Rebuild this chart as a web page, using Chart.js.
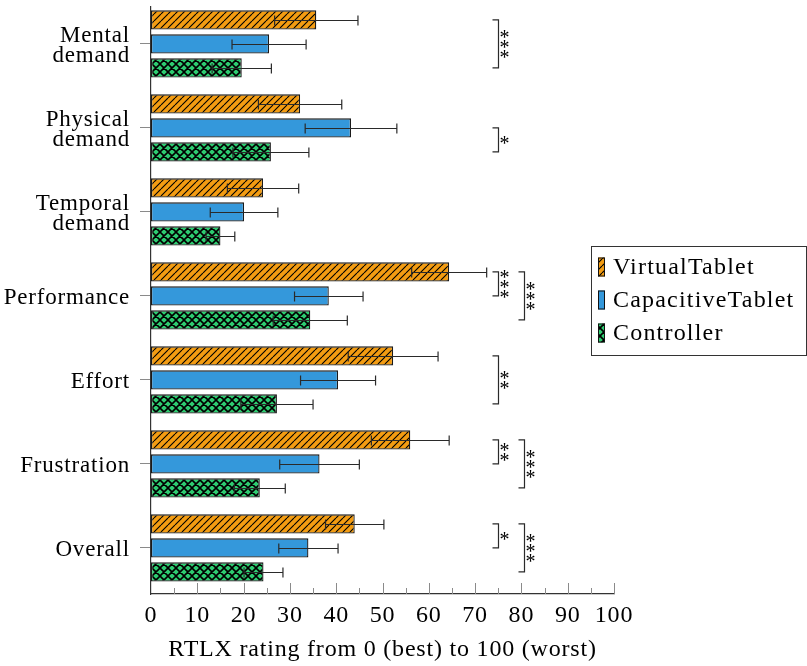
<!DOCTYPE html>
<html>
<head>
<meta charset="utf-8">
<title>RTLX ratings</title>
<script src="https://cdn.jsdelivr.net/npm/chart.js@4/dist/chart.umd.min.js"></script>
<style>
  html, body { margin: 0; padding: 0; background: #ffffff; }
  #wrap { width: 807px; height: 666px; }
</style>
</head>
<body>
<div id="wrap"><canvas id="chart" width="807" height="666"></canvas></div>
<script>
// ---- data -------------------------------------------------------------
const categories = [["Mental", "demand"], ["Physical", "demand"], ["Temporal", "demand"],
                    "Performance", "Effort", "Frustration", "Overall"];
const seriesNames = ["VirtualTablet", "CapacitiveTablet", "Controller"];

const virtualTablet      = [35.7, 32.2, 24.2, 64.4, 52.3, 56.0, 44.0];
const virtualTabletSD    = [ 9.0,  9.0,  7.7,  8.1,  9.7,  8.4,  6.3];
const capacitiveTablet   = [25.5, 43.2, 20.1, 38.4, 40.4, 36.4, 34.0];
const capacitiveTabletSD = [ 8.0,  9.9,  7.3,  7.4,  8.1,  8.6,  6.4];
const controller         = [19.6, 25.9, 15.0, 34.4, 27.2, 23.5, 24.3];
const controllerSD       = [ 6.4,  8.2,  3.1,  8.0,  7.8,  5.5,  4.2];

const xTicks = [0, 10, 20, 30, 40, 50, 60, 70, 80, 90, 100];

// pairwise significance: category, first series, second series, stars, bracket column
const sigCategory = [0, 1, 3, 3, 4, 5, 5, 6, 6];
const sigFrom     = [0, 1, 0, 0, 0, 0, 0, 0, 0];
const sigTo       = [2, 2, 1, 2, 2, 1, 2, 1, 2];
const sigStars    = ["***", "*", "***", "***", "**", "**", "***", "*", "***"];
const sigLevel    = [0, 0, 0, 1, 0, 0, 1, 0, 1];

// ---- styling ----------------------------------------------------------
const FONT = "'Liberation Serif', 'Times New Roman', serif";
const SPACING = "0.8px";
Chart.defaults.font.family = FONT;
Chart.defaults.color = "#000";

function hatchPattern(fill, size, cross, lw) {
  const c = document.createElement("canvas");
  c.width = size; c.height = size;
  const g = c.getContext("2d");
  g.fillStyle = fill;
  g.fillRect(0, 0, size, size);
  g.strokeStyle = "#000";
  g.lineWidth = lw;
  g.beginPath();
  // north-east lines (with wrap-around copies)
  for (const o of [-size, 0, size]) {
    g.moveTo(o, size); g.lineTo(o + size, 0);
  }
  if (cross) {
    for (const o of [-size, 0, size]) {
      g.moveTo(o, 0); g.lineTo(o + size, size);
    }
  }
  g.stroke();
  return g.createPattern(c, "repeat");
}

const ctx = document.getElementById("chart").getContext("2d");
const fills = [
  hatchPattern("#F39C12", 7, false, 1.1),
  "#3498DB",
  hatchPattern("#2ECC71", 8, true, 1.6)
];

const meanSets = [virtualTablet, capacitiveTablet, controller];
const sdSets = [virtualTabletSD, capacitiveTabletSD, controllerSD];

// bracket columns on the value axis and the arm length in pixels
const bracketColumn = [75, 80.6];
const ARM = 6;

const overlay = {
  id: "overlay",
  beforeLayout(chart) { chart.ctx.letterSpacing = SPACING; },
  beforeDraw(chart) { chart.ctx.letterSpacing = SPACING; },
  afterDatasetsDraw(chart) {
    const g = chart.ctx;
    const xs = chart.scales.x;
    g.save();
    g.letterSpacing = "0px";

    // error bars (mean ± SD)
    g.strokeStyle = "#2a2a2a";
    g.lineWidth = 1.2;
    meanSets.forEach((means, d) => {
      chart.getDatasetMeta(d).data.forEach((bar, i) => {
        const y = Math.round(bar.y) + 0.5;
        const x1 = xs.getPixelForValue(means[i] - sdSets[d][i]);
        const x2 = xs.getPixelForValue(means[i] + sdSets[d][i]);
        g.beginPath();
        g.moveTo(x1, y); g.lineTo(x2, y);
        g.moveTo(x1, y - 5); g.lineTo(x1, y + 5);
        g.moveTo(x2, y - 5); g.lineTo(x2, y + 5);
        g.stroke();
      });
    });

    // significance brackets with stacked asterisks
    g.font = "20px " + FONT;
    g.fillStyle = "#000";
    g.textAlign = "center";
    g.textBaseline = "alphabetic";
    const m = g.measureText("*");
    const starShift = (m.actualBoundingBoxAscent - m.actualBoundingBoxDescent) / 2;
    sigCategory.forEach((c, k) => {
      const yA = chart.getDatasetMeta(sigFrom[k]).data[c].y;
      const yB = chart.getDatasetMeta(sigTo[k]).data[c].y;
      const x = Math.round(xs.getPixelForValue(bracketColumn[sigLevel[k]])) + 0.5;
      g.beginPath();
      g.moveTo(x - ARM, yA); g.lineTo(x, yA); g.lineTo(x, yB); g.lineTo(x - ARM, yB);
      g.stroke();
      const stars = sigStars[k];
      const mid = (yA + yB) / 2;
      for (let s = 0; s < stars.length; s++) {
        const sy = mid + (s - (stars.length - 1) / 2) * 10;
        g.fillText(stars[s], x + 6, sy + starShift);
      }
    });

    // inward ticks on the value axis: major every 10, minor every 5
    const bottom = chart.chartArea.bottom;
    g.strokeStyle = "#8a8a8a";
    g.lineWidth = 1;
    g.beginPath();
    for (let v = 5; v <= 100; v += 5) {
      const px = Math.round(xs.getPixelForValue(v)) + 0.5;
      const len = v % 10 === 0 ? 11 : 6;
      g.moveTo(px, bottom); g.lineTo(px, bottom - len);
    }
    g.stroke();
    g.restore();
  },
  afterDraw(chart) {
    // framed legend box
    const g = chart.ctx;
    g.save();
    g.letterSpacing = "1.2px";
    g.strokeStyle = "#333";
    g.lineWidth = 1;
    g.strokeRect(591.5, 246.5, 215, 109);
    g.font = "24px " + FONT;
    g.textAlign = "left";
    g.textBaseline = "middle";
    seriesNames.forEach((name, d) => {
      const cy = 267 + d * 33;
      g.fillStyle = fills[d];
      g.fillRect(598, cy - 9.5, 7, 19);
      g.strokeStyle = "#111";
      g.strokeRect(598.5, cy - 9, 6, 18);
      g.fillStyle = "#000";
      g.fillText(name, 613, cy + 1);
    });
    g.restore();
  }
};

new Chart(ctx, {
  type: "bar",
  data: {
    datasets: seriesNames.map((name, d) => ({
      label: name,
      data: meanSets[d].map((v, i) => ({ x: v, y: i })),
      backgroundColor: fills[d],
      borderColor: "#1a1a1a",
      borderWidth: 1.3,
      borderSkipped: false,
      categoryPercentage: 0.857,
      barPercentage: 0.80
    }))
  },
  options: {
    indexAxis: "y",
    responsive: false,
    animation: false,
    layout: { padding: { left: 0, right: 193, top: 7, bottom: 0 } },
    plugins: { legend: { display: false }, tooltip: { enabled: false } },
    scales: {
      x: {
        type: "linear",
        min: 0,
        max: 100,
        afterBuildTicks: (s) => { s.ticks = xTicks.map(v => ({ value: v })); },
        afterFit: (s) => { s.height = 72; s.paddingLeft = 0; s.paddingRight = 0; },
        grid: { display: false, drawTicks: false },
        border: { display: true, color: "#333", width: 1.2 },
        ticks: { padding: 7, font: { size: 24 }, color: "#000", autoSkip: false, maxRotation: 0 },
        title: {
          display: true,
          text: "RTLX rating from 0 (best) to 100 (worst)",
          font: { size: 24 },
          color: "#000",
          padding: { top: 0, bottom: 2 }
        }
      },
      y: {
        type: "linear",
        reverse: true,
        offset: false,
        min: -0.44,
        max: 6.548,
        afterBuildTicks: (s) => { s.ticks = categories.map((_, i) => ({ value: i })); },
        afterFit: (s) => { s.width = 151; s.paddingTop = 0; s.paddingBottom = 0; },
        grid: { display: true, offset: false, drawOnChartArea: false, drawTicks: true, tickLength: 11, color: "#8a8a8a" },
        border: { display: true, color: "#333", width: 1.2 },
        ticks: {
          autoSkip: false,
          padding: 10,
          labelOffset: 2,
          color: "#000",
          font: { size: 23, lineHeight: "20px" },
          callback: (v) => categories[v]
        }
      }
    }
  },
  plugins: [overlay]
});
</script>
</body>
</html>
